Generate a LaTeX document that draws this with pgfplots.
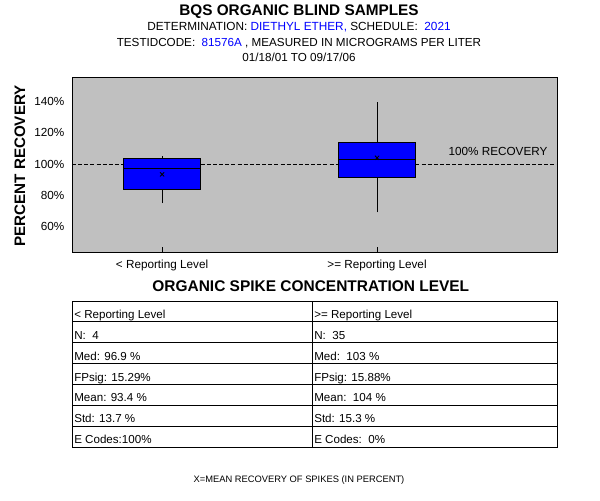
\documentclass[border=0pt]{standalone}
\usepackage{fontspec}
\setmainfont{Liberation Sans}
\usepackage{pgfplots}
\pgfplotsset{compat=1.18}
\definecolor{bggray}{RGB}{192,192,192}
\definecolor{pureblue}{RGB}{0,0,255}
\begin{document}
\begin{tikzpicture}
\begin{scope}[x=0.75pt,y=-0.75pt]
\path[use as bounding box, fill=white] (0,0) rectangle (600,500);
% headers
\node[anchor=base, inner sep=0] at (299,15) {\fontsize{11.5}{13}\selectfont\bfseries BQS ORGANIC BLIND SAMPLES};
\node[anchor=base, inner sep=0] at (299,30) {\fontsize{8.85}{10}\selectfont DETERMINATION: \textcolor{pureblue}{DIETHYL ETHER,} SCHEDULE:\ \ \textcolor{pureblue}{2021}};
\node[anchor=base, inner sep=0] at (299,46) {\fontsize{8.75}{10}\selectfont TESTIDCODE:\ \ \textcolor{pureblue}{81576A} , MEASURED IN MICROGRAMS PER LITER};
\node[anchor=base, inner sep=0] at (299,61) {\fontsize{8.75}{10}\selectfont 01/18/01 TO 09/17/06};
\end{scope}
\begin{axis}[
  at={(54pt,-189pt)}, anchor=south west,
  width=363.75pt, height=131.25pt, scale only axis,
  xmin=0.581, xmax=2.837, ymin=43.8, ymax=155.6,
  axis background/.style={fill=bggray},
  axis line style={line width=0.7pt},
  xtick={1,2},
  xticklabels={< Reporting Level, >= Reporting Level},
  xtick pos=bottom, tick align=inside,
  major tick length=3.75pt,
  xtick style={line width=0.7pt, black},
  xticklabel style={anchor=base, yshift=-12.2pt, font=\fontsize{8.8}{10}\selectfont},
  ytick={60,80,100,120,140},
  yticklabels={60\%,80\%,100\%,120\%,140\%},
  ytick style={draw=none},
  yticklabel style={anchor=east, xshift=-2.25pt, font=\fontsize{8.8}{10}\selectfont},
  clip=false,
]
\addplot[black, line width=0.7pt, dash pattern=on 3pt off 1.6pt] coordinates {(0.581,100) (2.837,100)};
% box 1: lower whisker 75.1, q1 83.6, median 96.9, q3 103.8, upper whisker 105.3
\addplot[black, line width=0.7pt] coordinates {(1,75.1) (1,83.6)};
\addplot[black, line width=0.7pt] coordinates {(1,103.8) (1,105.3)};
\addplot[draw=black, fill=pureblue, line width=0.7pt] coordinates {(0.821,83.6) (1.179,83.6) (1.179,103.8) (0.821,103.8)} -- cycle;
\addplot[black, line width=0.7pt] coordinates {(0.821,96.9) (1.179,96.9)};
% box 2: lower whisker 69.1, q1 91.7, median 103.2, q3 113.6, upper whisker 139.8
\addplot[black, line width=0.7pt] coordinates {(2,69.1) (2,91.7)};
\addplot[black, line width=0.7pt] coordinates {(2,113.6) (2,139.8)};
\addplot[draw=black, fill=pureblue, line width=0.7pt] coordinates {(1.821,91.7) (2.179,91.7) (2.179,113.6) (1.821,113.6)} -- cycle;
\addplot[black, line width=0.7pt] coordinates {(1.821,103.2) (2.179,103.2)};
% means
\addplot[only marks, mark=x, mark size=2.2pt, black, mark options={line width=0.6pt}] coordinates {(1,93.4) (2,104)};
\end{axis}
\begin{scope}[x=0.75pt,y=-0.75pt]
\node[anchor=base, inner sep=0] at (498,155.7) {\fontsize{8.8}{10}\selectfont 100\% RECOVERY};
\node[rotate=90, inner sep=0] at (20,166) {\fontsize{11.4}{13}\selectfont\bfseries PERCENT RECOVERY};
\node[anchor=base, inner sep=0] at (310.8,291.7) {\fontsize{11.6}{13}\selectfont\bfseries ORGANIC SPIKE CONCENTRATION LEVEL};
% table
\draw[line width=0.7pt] (72,301) rectangle (557,447);
\draw[line width=0.7pt] (312,301) -- (312,447);
\foreach \k in {1,...,6} {\draw[line width=0.7pt] (72,{301+20.857*\k}) -- (557,{301+20.857*\k});}
\foreach \t [count=\i from 0] in {< Reporting Level, N:\ \ 4, Med: 96.9 \%, FPsig: 15.29\%, Mean: 93.4 \%, Std: 13.7 \%, E Codes:100\%}
  {\node[anchor=base west, inner sep=0] at (74,{301+20.857*\i+17.5}) {\fontsize{8.7}{10}\selectfont \t};}
\foreach \t [count=\i from 0] in {>= Reporting Level, N:\ \ 35, Med:\ \ 103 \%, FPsig: 15.88\%, Mean:\ \ 104 \%, Std: 15.3 \%, E Codes:\ \ 0\%}
  {\node[anchor=base west, inner sep=0] at (314,{301+20.857*\i+17.5}) {\fontsize{8.7}{10}\selectfont \t};}
\node[anchor=base, inner sep=0] at (299,482.3) {\fontsize{7}{8}\selectfont X=MEAN RECOVERY OF SPIKES (IN PERCENT)};
\end{scope}
\end{tikzpicture}
\end{document}
